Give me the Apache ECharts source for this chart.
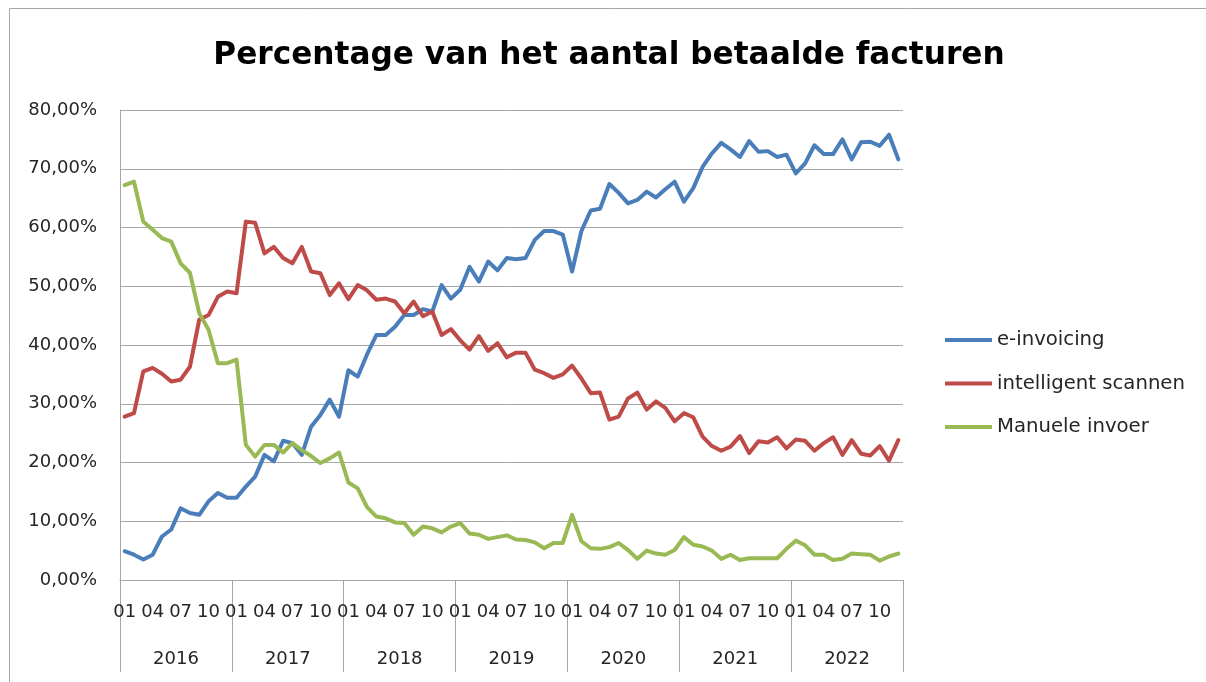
<!DOCTYPE html>
<html>
<head>
<meta charset="utf-8">
<script src="https://cdn.jsdelivr.net/npm/echarts@6/dist/echarts.min.js"></script>
<style>
html,body{margin:0;padding:0;background:#fff;}
#chart{width:1206px;height:682px;}
</style>
</head>
<body>
<div id="chart"></div>
<script>
const titleText = 'Percentage van het aantal betaalde facturen';
const years = ['2016','2017','2018','2019','2020','2021','2022'];
const months = ['01','02','03','04','05','06','07','08','09','10','11','12'];
const shownMonths = ['01','04','07','10'];
const seriesNames = ['e-invoicing','intelligent scannen','Manuele invoer'];

const eInvoicing = [
  4.9, 4.3, 3.5, 4.3, 7.4, 8.6, 12.2, 11.4, 11.1, 13.4, 14.8, 14.0,
  14.0, 15.9, 17.6, 21.3, 20.2, 23.7, 23.3, 21.3, 26.1, 28.1, 30.7, 27.8,
  35.7, 34.6, 38.4, 41.7, 41.7, 43.1, 45.1, 45.1, 46.1, 45.7, 50.2, 47.9,
  49.4, 53.3, 50.8, 54.2, 52.7, 54.8, 54.6, 54.8, 57.9, 59.4, 59.4, 58.8,
  52.5, 59.4, 62.9, 63.2, 67.4, 65.9, 64.1, 64.7, 66.1, 65.1, 66.5, 67.8,
  64.4, 66.7, 70.3, 72.6, 74.4, 73.3, 72.0, 74.7, 72.9, 73.0, 72.0, 72.4,
  69.2, 70.9, 74.0, 72.5, 72.5, 75.0, 71.6, 74.5, 74.6, 73.9, 75.8, 71.6
];
const intelligentScannen = [
  27.8, 28.4, 35.5, 36.1, 35.1, 33.8, 34.1, 36.3, 44.3, 45.1, 48.2, 49.1,
  48.8, 61.0, 60.8, 55.6, 56.7, 54.8, 53.9, 56.7, 52.5, 52.2, 48.5, 50.5,
  47.8, 50.2, 49.3, 47.7, 47.9, 47.4, 45.4, 47.4, 44.9, 45.7, 41.7, 42.7,
  40.8, 39.2, 41.5, 39.0, 40.3, 37.9, 38.7, 38.7, 35.8, 35.2, 34.4, 35.0,
  36.5, 34.3, 31.8, 31.9, 27.3, 27.8, 30.9, 31.9, 29.0, 30.4, 29.3, 27.0,
  28.4, 27.7, 24.4, 22.8, 22.0, 22.7, 24.5, 21.6, 23.6, 23.4, 24.3, 22.4,
  23.9, 23.7, 22.0, 23.3, 24.3, 21.3, 23.8, 21.5, 21.2, 22.8, 20.3, 23.8
];
const manueleInvoer = [
  67.2, 67.8, 61.0, 59.6, 58.2, 57.6, 53.9, 52.3, 45.4, 42.6, 36.9, 36.9,
  37.5, 23.0, 21.0, 23.0, 23.0, 21.7, 23.3, 22.1, 21.1, 19.9, 20.7, 21.7,
  16.6, 15.6, 12.4, 10.8, 10.5, 9.8, 9.7, 7.7, 9.1, 8.8, 8.1, 9.1,
  9.7, 7.9, 7.7, 7.0, 7.3, 7.6, 6.9, 6.8, 6.4, 5.4, 6.3, 6.3,
  11.1, 6.6, 5.4, 5.3, 5.6, 6.3, 5.1, 3.6, 5.0, 4.5, 4.3, 5.1,
  7.3, 6.0, 5.7, 5.0, 3.6, 4.3, 3.4, 3.7, 3.7, 3.7, 3.7, 5.3,
  6.7, 5.9, 4.3, 4.3, 3.4, 3.6, 4.5, 4.4, 4.3, 3.3, 4.0, 4.5
];

const categories = [];
years.forEach(y => months.forEach(m => categories.push(y + '-' + m)));

const FONT = '"DejaVu Sans", sans-serif';
const TXT = '#262626';
const GRID = '#a6a6a6';
const colors = ['#4a7ebb', '#be4b48', '#98b954'];

const chart = echarts.init(document.getElementById('chart'), null, {renderer: 'canvas'});
const mkSeries = (name, data, i) => ({
  name, type: 'line', data, xAxisIndex: 0, yAxisIndex: 0,
  showSymbol: false, symbol: 'none',
  lineStyle: {width: 4, color: colors[i], cap: 'round', join: 'round'},
  itemStyle: {color: colors[i]},
  emphasis: {disabled: true}
});

chart.setOption({
  animation: false,
  backgroundColor: '#fff',
  textStyle: {fontFamily: FONT},
  graphic: [{
    type: 'rect', silent: true, z: -1,
    shape: {x: 9.5, y: 8.5, width: 1400, height: 1000},
    style: {fill: 'none', stroke: '#a6a6a6', lineWidth: 1}
  }, {
    type: 'text', silent: true, x: 609, y: 56,
    style: {
      text: titleText, fill: '#000', align: 'center', verticalAlign: 'middle',
      fontFamily: FONT, fontSize: 31.2, fontWeight: 'bold'
    }
  }],
  legend: {
    orient: 'vertical', left: 940, top: 325,
    itemWidth: 47, itemHeight: 4, itemGap: 23.5, icon: 'rect',
    textStyle: {fontFamily: FONT, fontSize: 19.7, color: TXT, lineHeight: 20},
    data: seriesNames
  },
  grid: {left: 120, right: 303, top: 110, bottom: 102, containLabel: false},
  xAxis: [{
    type: 'category', data: categories, boundaryGap: true, position: 'bottom',
    axisLine: {show: true, lineStyle: {color: GRID, width: 1}},
    axisTick: {show: false},
    axisLabel: {
      interval: (idx, val) => shownMonths.indexOf(val.slice(5)) >= 0,
      formatter: v => v.slice(5),
      margin: 23, fontSize: 18, color: TXT, fontFamily: FONT
    },
    splitLine: {show: false}
  }, {
    type: 'category', data: years, boundaryGap: true, position: 'bottom',
    axisLine: {show: false},
    axisTick: {show: true, length: 92, interval: 0, lineStyle: {color: GRID, width: 1}},
    axisLabel: {margin: 70, fontSize: 18, color: TXT, fontFamily: FONT, interval: 0},
    splitLine: {show: false}
  }],
  yAxis: {
    type: 'value', min: 0, max: 80, interval: 10,
    axisLine: {show: true, lineStyle: {color: GRID, width: 1}},
    axisTick: {show: false},
    axisLabel: {
      formatter: v => v.toFixed(2).replace('.', ',') + '%',
      margin: 23, fontSize: 18, color: TXT, fontFamily: FONT
    },
    splitLine: {show: true, lineStyle: {color: GRID, width: 1}}
  },
  series: [
    mkSeries(seriesNames[0], eInvoicing, 0),
    mkSeries(seriesNames[1], intelligentScannen, 1),
    mkSeries(seriesNames[2], manueleInvoer, 2)
  ]
});
</script>
</body>
</html>
